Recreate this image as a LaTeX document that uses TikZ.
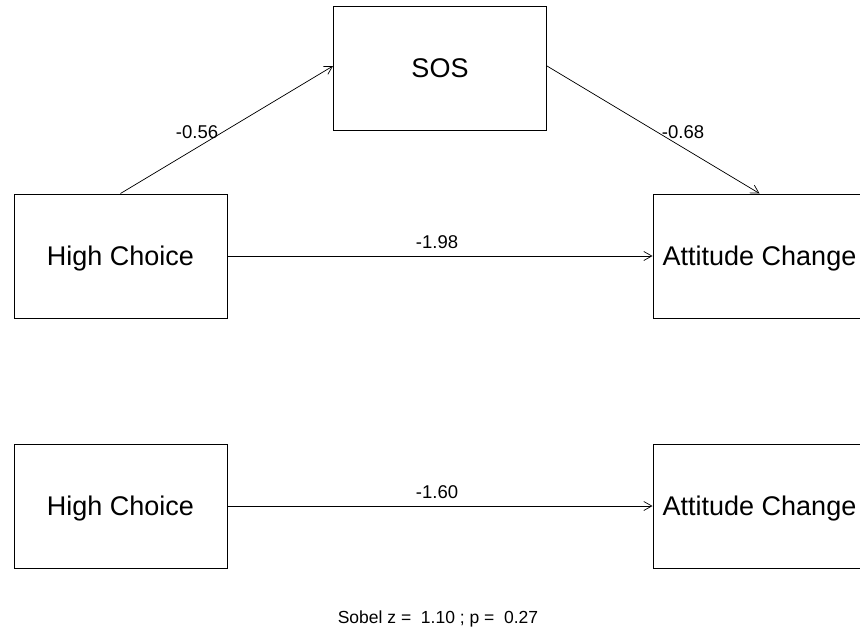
\documentclass[tikz,border=0pt]{standalone}
\usepackage{fontspec}
\setmainfont{Liberation Sans}
\usetikzlibrary{arrows.meta}
\begin{document}
\begin{tikzpicture}[x=1pt,y=-1pt,
  varbox/.style={draw, line width=1pt, minimum width=213pt, minimum height=124pt,
    inner sep=0pt, text depth=0pt, font=\fontsize{27}{31}\selectfont},
  path/.style={line width=0.7pt, -{Straight Barb[length=8pt,width=9pt,line width=0.7pt]}},
  coef/.style={font=\fontsize{18.5}{21}\selectfont, inner sep=0pt}]
  \useasboundingbox (0,0) rectangle (860,632);
  \begin{scope}
  \clip (0,0) rectangle (860,632);
  % mediation model
  \node[varbox] (sos) at (440,68) {SOS};
  \node[varbox] (hc1) at (120.5,256) {High Choice};
  \node[varbox] (ac1) at (759.5,256) {Attitude Change};
  % total effect model
  \node[varbox] (hc2) at (120.5,506) {High Choice};
  \node[varbox] (ac2) at (759.5,506) {Attitude Change};
  \end{scope}
  \draw[path] (hc1.north) -- ([yshift=2pt]sos.west);
  \draw[path] ([yshift=2pt]sos.east) -- (ac1.north);
  \draw[path] (hc1.east) -- (ac1.west);
  \draw[path] (hc2.east) -- (ac2.west);
  % coefficients
  \node[coef] (a) at (197,132) {-0.56};
  \node[coef] (b) at (683,132) {-0.68};
  \node[coef] (c) at (437,242) {-1.98};
  \node[coef] (cp) at (437,492) {-1.60};
  \node[font=\fontsize{17.5}{20}\selectfont, inner sep=0pt] (sobel) at (438,619)
    {Sobel z =\ \ 1.10 ; p =\ \ 0.27};
\end{tikzpicture}
\end{document}
